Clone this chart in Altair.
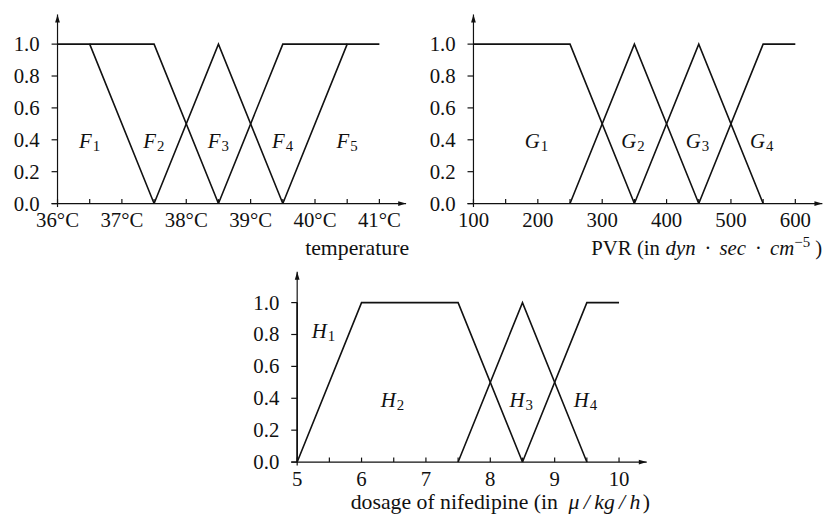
import altair as alt
import pandas as pd

FONT = "Liberation Serif"
INK = "#111111"

# ---------------- data ----------------
# Panel 1: temperature
temp_sets = ["F1", "F2", "F3", "F4", "F5"]
temp_x = [[36, 36.5, 37.5], [36.5, 37.5, 38.5], [37.5, 38.5, 39.5], [38.5, 39.5, 40.5], [39.5, 40.5, 41]]
temp_y = [[1, 1, 0], [1, 1, 0], [0, 1, 0], [0, 1, 1], [0, 1, 1]]
temp_ticks = [36, 36.5, 37, 37.5, 38, 38.5, 39, 39.5, 40, 40.5, 41]
temp_label_vals = [36, 37, 38, 39, 40, 41]
temp_label_text = ["36°C", "37°C", "38°C", "39°C", "40°C", "41°C"]
temp_set_letter = ["F", "F", "F", "F", "F"]
temp_set_sub = ["1", "2", "3", "4", "5"]
temp_set_x = [36.5, 37.5, 38.5, 39.5, 40.5]
temp_set_y = [0.4, 0.4, 0.4, 0.4, 0.4]

# Panel 2: PVR
pvr_sets = ["G1", "G2", "G3", "G4"]
pvr_x = [[100, 250, 350], [250, 350, 450], [350, 450, 550], [450, 550, 600]]
pvr_y = [[1, 1, 0], [0, 1, 0], [0, 1, 0], [0, 1, 1]]
pvr_ticks = [100, 150, 200, 250, 300, 350, 400, 450, 500, 550, 600]
pvr_label_vals = [100, 200, 300, 400, 500, 600]
pvr_label_text = ["100", "200", "300", "400", "500", "600"]
pvr_set_letter = ["G", "G", "G", "G"]
pvr_set_sub = ["1", "2", "3", "4"]
pvr_set_x = [200, 350, 450, 550]
pvr_set_y = [0.4, 0.4, 0.4, 0.4]

# Panel 3: dosage of nifedipine
dose_sets = ["H1", "H2", "H3", "H4"]
dose_x = [[5, 5], [5, 6, 7.5, 8.5], [7.5, 8.5, 9.5], [8.5, 9.5, 10]]
dose_y = [[0, 1], [0, 1, 1, 0], [0, 1, 0], [0, 1, 1]]
dose_ticks = [5, 5.5, 6, 6.5, 7, 7.5, 8, 8.5, 9, 9.5, 10]
dose_label_vals = [5, 6, 7, 8, 9, 10]
dose_label_text = ["5", "6", "7", "8", "9", "10"]
dose_set_letter = ["H", "H", "H", "H"]
dose_set_sub = ["1", "2", "3", "4"]
dose_set_x = [5.43, 6.5, 8.5, 9.5]
dose_set_y = [0.83, 0.4, 0.4, 0.4]

ytick_vals = [0.0, 0.2, 0.4, 0.6, 0.8, 1.0]
ytick_text = ["0.0", "0.2", "0.4", "0.6", "0.8", "1.0"]

# ---------------- layout (pixels in chart coordinates) ----------------
W, H = 828, 508
FS = 21

LAY = {
    "temp": dict(xd=[36, 41], xp=[50, 375], yp=[195, 34], xtip=41.415, ytip=1.186),
    "pvr": dict(xd=[100, 600], xp=[470, 795], yp=[195, 34], xtip=642, ytip=1.186),
    "dose": dict(xd=[5, 10], xp=[292, 617], yp=[456, 295], xtip=10.43, ytip=1.193),
}

TITLES = {
    "temp": [("temperature", 405, 247, 22, "normal", "right")],
    "pvr": [
        ("PVR (in", 589, 247, FS, "normal", "left"),
        ("dyn\u2009 · \u2009sec\u2009 · \u2009cm", 664, 247, FS, "italic", "left"),
        ("\u22125", 794, 239, 15, "normal", "left"),
        (")", 815, 247, FS, "normal", "left"),
    ],
    "dose": [
        ("dosage of nifedipine (in", 346, 503, 22, "normal", "left"),
        ("\u03bc\u2009/\u2009kg\u2009/\u2009h", 566, 503, 22, "italic", "left"),
        (")", 641, 503, 22, "normal", "left"),
    ],
}

ARROW_RIGHT = "M0,0L-2,-0.6L-2,0.6Z"
ARROW_UP = "M0,0L-0.6,2L0.6,2Z"


def panel(key, sets, xs, ys, ticks, lab_vals, lab_text, letters, subs, sx, sy):
    lay = LAY[key]
    xd0, xd1 = lay["xd"]
    xp0, xp1 = lay["xp"]
    yp0, yp1 = lay["yp"]
    upx = (xd1 - xd0) / (xp1 - xp0)
    upy = 1.0 / (yp0 - yp1)
    xs_ = alt.Scale(domain=[xd0, xd1], range=[xp0, xp1], nice=False, zero=False)
    ys_ = alt.Scale(domain=[0, 1], range=[yp0, yp1], nice=False, zero=False)

    def X(f):
        return alt.X(f, type="quantitative", scale=xs_, axis=None)

    def Y(f):
        return alt.Y(f, type="quantitative", scale=ys_, axis=None)

    rows = []
    for name, px, py in zip(sets, xs, ys):
        for j, (a, b) in enumerate(zip(px, py)):
            rows.append(dict(set=name, o=j, x=a, y=b))
    lines = alt.Chart(pd.DataFrame(rows)).mark_line(
        color=INK, strokeWidth=1.6, strokeJoin="miter"
    ).encode(x=X("x"), y=Y("y"), detail="set:N", order="o:Q")

    rr = [
        dict(x=xd0 - 6 * upx, x2=lay["xtip"], y=0, y2=0),
        dict(x=xd0, x2=xd0, y=-3.5 * upy, y2=lay["ytip"]),
    ]
    for v in ytick_vals:
        rr.append(dict(x=xd0 - 6 * upx, x2=xd0, y=v, y2=v))
    for t in ticks:
        rr.append(dict(x=t, x2=t, y=0, y2=4.5 * upy))
    rules = alt.Chart(pd.DataFrame(rr)).mark_rule(color=INK, strokeWidth=1.2).encode(
        x=X("x"), x2="x2:Q", y=Y("y"), y2="y2:Q"
    )

    arr_r = alt.Chart(pd.DataFrame([dict(x=lay["xtip"], y=0)])).mark_point(
        shape=ARROW_RIGHT, size=64, filled=True, color=INK, opacity=1, strokeWidth=0
    ).encode(x=X("x"), y=Y("y"))
    arr_u = alt.Chart(pd.DataFrame([dict(x=xd0, y=lay["ytip"])])).mark_point(
        shape=ARROW_UP, size=64, filled=True, color=INK, opacity=1, strokeWidth=0
    ).encode(x=X("x"), y=Y("y"))

    ylab = alt.Chart(pd.DataFrame(dict(v=ytick_vals, t=ytick_text, x=[xd0] * len(ytick_vals)))).mark_text(
        align="right", baseline="alphabetic", dx=-18, dy=7, font=FONT, fontSize=FS, color=INK
    ).encode(x=X("x"), y=Y("v"), text="t:N")

    xlab = alt.Chart(pd.DataFrame(dict(v=lab_vals, t=lab_text, y=[0] * len(lab_vals)))).mark_text(
        align="center", baseline="alphabetic", dy=24, font=FONT, fontSize=FS, color=INK
    ).encode(x=X("v"), y=Y("y"), text="t:N")

    sdf = pd.DataFrame(dict(x=sx, y=sy, l=letters, s=subs))
    let = alt.Chart(sdf).mark_text(
        align="right", baseline="alphabetic", dx=2, dy=8.4, font=FONT, fontSize=FS,
        fontStyle="italic", color=INK
    ).encode(x=X("x"), y=Y("y"), text="l:N")
    sub = alt.Chart(sdf).mark_text(
        align="left", baseline="alphabetic", dx=3, dy=11.4, font=FONT, fontSize=15, color=INK
    ).encode(x=X("x"), y=Y("y"), text="s:N")

    layers = [lines, rules, arr_r, arr_u, ylab, xlab, let, sub]
    for (txt, px, py, fs, style, al) in TITLES[key]:
        layers.append(
            alt.Chart(pd.DataFrame([dict(t=txt)])).mark_text(
                align=al, baseline="alphabetic", font=FONT, fontSize=fs, fontStyle=style, color=INK
            ).encode(x=alt.value(px), y=alt.value(py), text="t:N")
        )
    return alt.layer(*layers)


p1 = panel("temp", temp_sets, temp_x, temp_y, temp_ticks, temp_label_vals, temp_label_text,
           temp_set_letter, temp_set_sub, temp_set_x, temp_set_y)
p2 = panel("pvr", pvr_sets, pvr_x, pvr_y, pvr_ticks, pvr_label_vals, pvr_label_text,
           pvr_set_letter, pvr_set_sub, pvr_set_x, pvr_set_y)
p3 = panel("dose", dose_sets, dose_x, dose_y, dose_ticks, dose_label_vals, dose_label_text,
           dose_set_letter, dose_set_sub, dose_set_x, dose_set_y)

chart = alt.layer(p1, p2, p3).resolve_scale(x="independent", y="independent").properties(
    width=W, height=H, padding=0, autosize="none", background="white"
).configure_view(stroke=None)

chart.save("out.html", embed_options={"renderer": "svg", "actions": False})
